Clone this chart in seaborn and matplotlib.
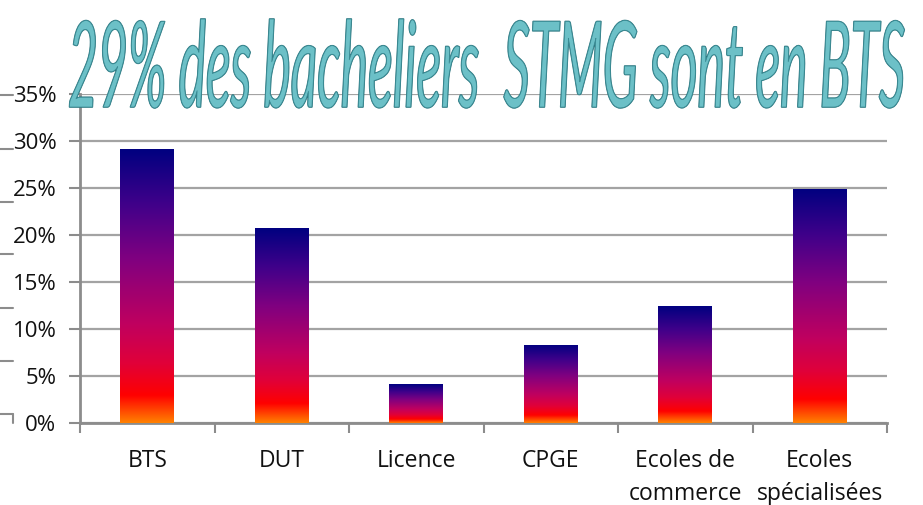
import numpy as np
import pandas as pd
import matplotlib
matplotlib.use("Agg")
import matplotlib.pyplot as plt
import seaborn as sns
from matplotlib.colors import LinearSegmentedColormap, to_rgba
from matplotlib.ticker import PercentFormatter
import matplotlib.patheffects as pe
from matplotlib.transforms import Affine2D
from matplotlib.lines import Line2D

# ---- data ----
categories = ["BTS", "DUT", "Licence", "CPGE", "Ecoles de\ncommerce", "Ecoles\nspécialisées"]
values = [0.291, 0.207, 0.041, 0.083, 0.124, 0.249]
yticks = [0.0, 0.05, 0.10, 0.15, 0.20, 0.25, 0.30, 0.35]
title = "29% des bacheliers  STMG sont en BTS"

W, H = 923, 505
sns.set_theme(style="white")
plt.rcParams["font.family"] = ["Open Sans", "DejaVu Sans"]

fig = plt.figure(figsize=(W / 100, H / 100), dpi=100)
ax = fig.add_axes([80 / W, (H - 423) / H, 807 / W, 329 / H])

df = pd.DataFrame({"cat": categories, "val": values})
sns.barplot(data=df, x="cat", y="val", ax=ax, width=0.4, color="#800080",
            saturation=1, errorbar=None)

fire = LinearSegmentedColormap.from_list(
    "fire", [(0.0, "#FF8000"), (0.10, "#FF0000"), (0.22, "#E0003A"),
             (0.36, "#C0005F"), (0.60, "#800080"), (0.80, "#40008A"),
             (1.0, "#000080")])
grad = np.linspace(0, 1, 256).reshape(-1, 1)
for p in list(ax.patches):
    x0, y0 = p.get_x(), p.get_y()
    w, h = p.get_width(), p.get_height()
    im = ax.imshow(grad, cmap=fire, origin="lower", aspect="auto",
                   extent=(x0, x0 + w, y0, y0 + h), interpolation="bicubic",
                   zorder=3)
    im.set_clip_path(p)
    p.set_facecolor("none")
    p.set_edgecolor("none")

ax.set_xlim(-0.5, len(categories) - 0.5)
ax.set_ylim(0, 0.35)
ax.set_yticks(yticks)
ax.yaxis.set_major_formatter(PercentFormatter(1, decimals=0))
ax.set_xlabel("")
ax.set_ylabel("")
ax.set_axisbelow(True)
ax.yaxis.grid(True, color="#a3a3a3", lw=1.6)
ax.xaxis.grid(False)
for s in ["top", "right"]:
    ax.spines[s].set_visible(False)
for s in ["left", "bottom"]:
    ax.spines[s].set_color("#8c8c8c")
    ax.spines[s].set_linewidth(2)

ax.tick_params(axis="y", left=True, length=8, width=1.5, color="#8c8c8c",
               pad=9, labelsize=16, labelcolor="#111111")
ax.set_xticks(np.arange(-0.5, len(categories), 1), minor=True)
ax.tick_params(axis="x", which="minor", bottom=True, length=7, width=1.5,
               color="#8c8c8c")
ax.tick_params(axis="x", which="major", bottom=False, length=0, pad=19,
               labelsize=16.5, labelcolor="#111111")
for t in ax.get_xticklabels():
    t.set_linespacing(1.5)

# decorative stub marks at the far left
for yp in [95, 149, 202, 254, 308, 361, 414]:
    fig.add_artist(Line2D([0, 13 / W], [(H - yp) / H] * 2, transform=fig.transFigure,
                          color="#8c8c8c", lw=1.5))
fig.add_artist(Line2D([13 / W] * 2, [(H - 414) / H, (H - 423) / H],
                      transform=fig.transFigure, color="#8c8c8c", lw=1.5))


# ---- title: condensed italic teal WordArt-like text ----
class Stretch(pe.AbstractPathEffect):
    def __init__(self, sx, sy, cx, cy, face, edge, lw):
        super().__init__()
        self.sx, self.sy, self.cx, self.cy = sx, sy, cx, cy
        self.face, self.edge, self.lw = to_rgba(face), edge, lw

    def draw_path(self, renderer, gc, tpath, affine, rgbFace=None):
        t = affine + Affine2D().translate(-self.cx, -self.cy).scale(self.sx, self.sy) \
            .translate(self.cx, self.cy)
        g = renderer.new_gc()
        g.copy_properties(gc)
        g.set_foreground(self.edge)
        g.set_linewidth(self.lw)
        renderer.draw_path(g, tpath, t, self.face)
        g.restore()


cx = (68 + 905) / 2
base_px = 107
f0 = 38
ttl = fig.text(cx / W, (H - base_px) / H, title, ha="center", va="baseline",
               fontsize=f0, style="italic", family=["Lato", "DejaVu Sans"],
               color="#5fb6be", zorder=10)
fig.canvas.draw()
bb = ttl.get_window_extent(renderer=fig.canvas.get_renderer())
sx = (905 - 68) / bb.width
sy = 86 / f0
cy = H - base_px
ttl.set_path_effects([Stretch(sx, sy, cx, cy, "#2a737c", "#2a737c", 1.1),
                      Stretch(sx, sy, cx, cy, "#6cc0c7", "#3a8b94", 0.5)])

fig.savefig("out.png", dpi=100)
